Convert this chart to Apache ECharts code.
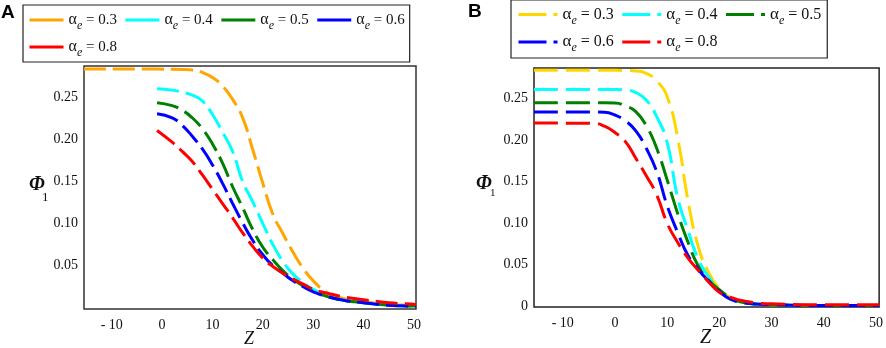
<!DOCTYPE html>
<html>
<head>
<meta charset="utf-8">
<script src="https://cdn.jsdelivr.net/npm/echarts@6/dist/echarts.min.js"></script>
<style>
    html, body { margin: 0; padding: 0; background: #fff; }
    #chart { width: 886px; height: 348px; }
</style>
</head>
<body>
<div id="chart"></div>
<script>
// panel A: z positions and Phi_1 values
var zA = [-15.5, -1, 2, 4, 6, 8, 10, 12, 14, 16, 18, 20, 22, 24, 26, 28, 30, 33, 36, 40, 45, 50.4];
var phiA_03 = [0.284, 0.284, 0.2838, 0.2835, 0.283, 0.280, 0.274, 0.264, 0.248, 0.226, 0.188, 0.148, 0.111, 0.088, 0.066, 0.047, 0.032, 0.017, 0.011, 0.007, 0.004, 0.003];
var phiA_04 = [null, 0.2607, 0.259, 0.2565, 0.253, 0.246, 0.230, 0.209, 0.186, 0.150, 0.126, 0.100, 0.075, 0.055, 0.040, 0.030, 0.022, 0.014, 0.009, 0.006, 0.003, 0.002];
var phiA_05 = [null, 0.244, 0.2405, 0.235, 0.226, 0.213, 0.195, 0.172, 0.144, 0.119, 0.093, 0.072, 0.057, 0.044, 0.034, 0.026, 0.020, 0.013, 0.009, 0.006, 0.003, 0.002];
var phiA_06 = [null, 0.231, 0.226, 0.217, 0.204, 0.189, 0.170, 0.148, 0.124, 0.101, 0.080, 0.063, 0.050, 0.041, 0.032, 0.025, 0.019, 0.013, 0.009, 0.006, 0.003, 0.002];
var phiA_08 = [null, 0.211, 0.197, 0.186, 0.174, 0.158, 0.141, 0.124, 0.107, 0.089, 0.073, 0.059, 0.049, 0.041, 0.034, 0.028, 0.022, 0.017, 0.013, 0.0095, 0.006, 0.004];

// panel B
var zB = [-15.5, -4, -2, 0, 2, 4, 6, 8, 10, 12, 14, 16, 18, 20, 22, 25, 30, 40, 50.6];
var phiB_03 = [0.2837, 0.2837, 0.2837, 0.2837, 0.2835, 0.283, 0.280, 0.271, 0.252, 0.203, 0.127, 0.071, 0.040, 0.021, 0.011, 0.005, 0.002, 0.001, 0.001];
var phiB_04 = [0.2608, 0.2608, 0.2608, 0.2607, 0.260, 0.257, 0.248, 0.228, 0.197, 0.131, 0.091, 0.056, 0.035, 0.019, 0.009, 0.004, 0.002, 0.001, 0.001];
var phiB_05 = [0.2447, 0.2447, 0.2447, 0.2445, 0.241, 0.234, 0.217, 0.190, 0.152, 0.112, 0.077, 0.048, 0.031, 0.020, 0.011, 0.004, 0.002, 0.001, 0.001];
var phiB_06 = [0.2335, 0.2335, 0.2333, 0.230, 0.223, 0.211, 0.190, 0.162, 0.121, 0.089, 0.061, 0.044, 0.030, 0.018, 0.009, 0.004, 0.002, 0.001, 0.001];
var phiB_08 = [0.2203, 0.2200, 0.2165, 0.209, 0.198, 0.178, 0.157, 0.134, 0.100, 0.077, 0.058, 0.043, 0.029, 0.017, 0.011, 0.006, 0.003, 0.002, 0.002];

var alphaValues = ['0.3', '0.4', '0.5', '0.6', '0.8'];
var colorsA = ['#ffa500', '#00ffff', '#008000', '#0000ff', '#ff0000'];
var colorsB = ['#ffd700', '#00ffff', '#008000', '#0000ff', '#ff0000'];

var xTicks = [-10, 0, 10, 20, 30, 40, 50];
var yTicksA = [0.05, 0.10, 0.15, 0.20, 0.25];
var yTicksB = [0, 0.05, 0.10, 0.15, 0.20, 0.25];

var serif = '"Liberation Serif", "Times New Roman", serif';

function pairs(zs, vs) {
    var out = [];
    for (var i = 0; i < zs.length; i++) {
        if (vs[i] !== null) out.push([zs[i], vs[i]]);
    }
    return out;
}

function legendText(name) {
    return '{a|α}{e|e}{t| = ' + name.slice(1) + '}';
}

function legendRich(big, small) {
    return {
        a: {fontFamily: serif, fontSize: big, color: '#111'},
        e: {fontFamily: serif, fontSize: 12, fontStyle: 'italic', color: '#111', padding: [12, 0, 0, 0]},
        t: {fontFamily: serif, fontSize: small, color: '#111'}
    };
}

function xAxisFor(idx, min, max) {
    return {
        type: 'value', gridIndex: idx, min: min, max: max,
        axisLine: {show: false}, axisTick: {show: false}, splitLine: {show: false},
        axisLabel: {
            customValues: xTicks, margin: 9,
            fontFamily: serif, fontSize: 14, color: '#111',
            formatter: function (v) { return v < 0 ? '- ' + (-v) : '' + v; }
        }
    };
}

function yAxisFor(idx, min, max, ticks) {
    return {
        type: 'value', gridIndex: idx, min: min, max: max,
        axisLine: {show: false}, axisTick: {show: false}, splitLine: {show: false},
        axisLabel: {
            customValues: ticks, margin: 6,
            fontFamily: serif, fontSize: 14, color: '#111',
            formatter: function (v) { return v === 0 ? '0' : v.toFixed(2); }
        }
    };
}

var dataA = [phiA_03, phiA_04, phiA_05, phiA_06, phiA_08];
var dataB = [phiB_03, phiB_04, phiB_05, phiB_06, phiB_08];
var series = [];
alphaValues.forEach(function (a, i) {
    series.push({
        name: 'A' + a, type: 'line', xAxisIndex: 0, yAxisIndex: 0,
        data: pairs(zA, dataA[i]), showSymbol: false, symbol: 'none',
        smooth: 0.5, color: colorsA[i],
        lineStyle: {width: 3, type: [22, 7], color: colorsA[i]}
    });
});
alphaValues.forEach(function (a, i) {
    series.push({
        name: 'B' + a, type: 'line', xAxisIndex: 1, yAxisIndex: 1,
        data: pairs(zB, dataB[i]), showSymbol: false, symbol: 'none',
        smooth: 0.5, color: colorsB[i],
        lineStyle: {width: 3, type: [24, 8], color: colorsB[i]}
    });
});

var dom = document.getElementById('chart');
var myChart = echarts.init(dom, null, {renderer: 'canvas'});

var option = {
    animation: false,
    backgroundColor: '#fff',
    grid: [
        {left: 84, top: 66, width: 332, height: 243, show: true, borderColor: '#333', borderWidth: 1.5, backgroundColor: 'transparent'},
        {left: 534, top: 68, width: 348, height: 239, show: true, borderColor: '#222', borderWidth: 1.5, backgroundColor: 'transparent'}
    ],
    xAxis: [xAxisFor(0, -15.5, 50.4), xAxisFor(1, -15.5, 50.6)],
    yAxis: [yAxisFor(0, -0.0015, 0.2877, yTicksA), yAxisFor(1, -0.0008, 0.2865, yTicksB)],
    legend: [
        {
            data: alphaValues.map(function (a) { return 'A' + a; }),
            left: 23, top: 5, width: 400, orient: 'horizontal',
            itemWidth: 34, itemHeight: 14, itemGap: 7,
            padding: [7, 5, 3, 5], borderColor: '#222', borderWidth: 1.2,
            lineStyle: {type: 'solid', width: 3},
            itemStyle: {opacity: 0},
            formatter: legendText,
            textStyle: {rich: legendRich(16, 15)}
        },
        {
            data: alphaValues.map(function (a) { return 'B' + a; }),
            left: 511, top: 0, width: 330, orient: 'horizontal',
            itemWidth: 39, itemHeight: 14, itemGap: 7,
            padding: [6, 6, 4, 6], borderColor: '#222', borderWidth: 1.2,
            lineStyle: {type: [28, 7], width: 3},
            itemStyle: {opacity: 0},
            formatter: legendText,
            textStyle: {rich: legendRich(17, 16)}
        }
    ],
    graphic: [
        {type: 'text', left: 1, top: 3, style: {text: 'A', font: 'bold 19px "Liberation Sans", Arial, sans-serif', fill: '#000'}},
        {type: 'text', left: 468, top: 2, style: {text: 'B', font: 'bold 19px "Liberation Sans", Arial, sans-serif', fill: '#000'}},
        {type: 'text', left: 29, top: 175, style: {text: 'Φ', font: 'italic bold 20px "Liberation Serif", serif', fill: '#111'}},
        {type: 'text', left: 42, top: 191, style: {text: '1', font: '13px "Liberation Serif", serif', fill: '#111'}},
        {type: 'text', left: 476, top: 174, style: {text: 'Φ', font: 'italic bold 20px "Liberation Serif", serif', fill: '#111'}},
        {type: 'text', left: 490, top: 188, style: {text: '1', font: '11px "Liberation Serif", serif', fill: '#111'}},
        {type: 'text', left: 244, top: 330, style: {text: 'Z', font: 'italic 18px "Liberation Serif", serif', fill: '#111'}},
        {type: 'text', left: 700, top: 328, style: {text: 'Z', font: 'italic 20px "Liberation Serif", serif', fill: '#111'}}
    ],
    series: series
};

if (option && typeof option === 'object') {
    myChart.setOption(option);
}
</script>
</body>
</html>
